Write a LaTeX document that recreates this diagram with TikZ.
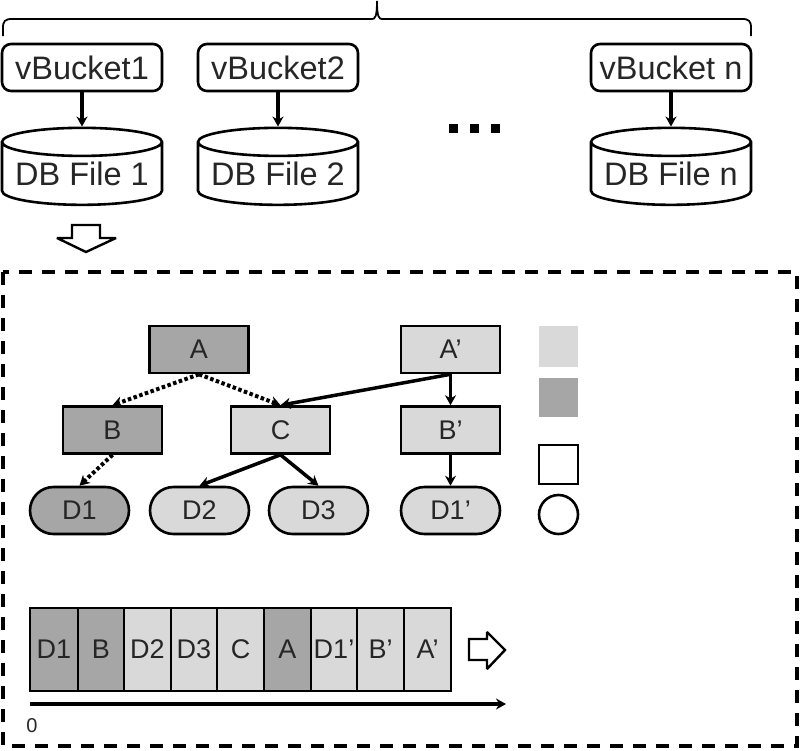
\documentclass[tikz,border=0pt]{standalone}
\usepackage{fontspec}
\setmainfont{Liberation Sans}
\usetikzlibrary{arrows.meta,shapes.geometric,shapes.misc}
\definecolor{lightfill}{HTML}{D9D9D9}
\definecolor{darkfill}{HTML}{A6A6A6}
\definecolor{inkgray}{HTML}{262626}
\tikzset{
  >={Stealth[length=10pt,width=11pt]},
  base/.style={draw=black,line width=2.6pt,inner sep=0pt,text=inkgray,font=\fontsize{27}{30}\selectfont},
  bucket/.style={base,rounded corners=9pt,minimum width=160pt,minimum height=47pt,font=\fontsize{32.5}{36}\selectfont},
  dbfile/.style={base,cylinder,shape border rotate=90,aspect=0.21,minimum width=160pt,minimum height=77pt,font=\fontsize{32.5}{36}\selectfont},
  treebox/.style={base,minimum width=99pt,minimum height=47pt},
  leaf/.style={base,rounded rectangle,minimum width=99pt,minimum height=47pt},
  cell/.style={base,minimum height=83pt},
  link/.style={->,line width=3.5pt},
  weak/.style={->,line width=4pt,dash pattern=on 3.5pt off 2.5pt},
  hollow/.style={draw=black,line width=2.4pt,fill=white,miter limit=2}
}
\begin{document}
\begin{tikzpicture}[x=1pt,y=-1pt]
  \useasboundingbox (0,0) rectangle (800,750);
  % top brace
  \draw[line width=1.8pt] (3,36) -- (3,28) .. controls (3,21) and (5,19) .. (12,19)
    -- (372,19) .. controls (375,19) and (377,17) .. (377,1)
    .. controls (377,17) and (379,19) .. (382,19) -- (742,19)
    .. controls (749,19) and (751,21) .. (751,28) -- (751,36);
  % buckets and files
  \foreach \x/\v/\f/\c in {1/vBucket1/DB File 1/82, 2/vBucket2/DB File 2/278, 3/vBucket n/DB File n/671}{
    \node[bucket](V\x) at (\c, 67.5){\v};
    \node[dbfile](F\x) at (\c, 174){\raisebox{-7pt}{\f}};
    \draw[link](V\x.south)--(F\x.north);
  }
  \foreach \x in {449, 470, 491}{
    \fill (\x, 124) rectangle ++(9, 9);
  }
  \draw[hollow] (72,225) -- (100,225) -- (100,238) -- (116,238) -- (86,252) -- (57,238) -- (72,238) -- cycle;
  % frame
  \draw[line width=3.6pt,dash pattern=on 13pt off 10pt] (3,272) rectangle (797,746);
  % tree
  \node[treebox,fill=darkfill](A) at (199, 349.5){A};
  \node[treebox,fill=lightfill](Ap) at (450.5, 349.5){A’};
  \node[treebox,fill=darkfill](B) at (112.5, 430){B};
  \node[treebox,fill=lightfill](C) at (280.5, 430){C};
  \node[treebox,fill=lightfill](Bp) at (450.5, 430){B’};
  \node[leaf,fill=darkfill](D1) at (79.5, 510.5){D1};
  \node[leaf,fill=lightfill](D2) at (199.5, 510.5){D2};
  \node[leaf,fill=lightfill](D3) at (318.5, 510.5){D3};
  \node[leaf,fill=lightfill](Dp) at (450.5, 510.5){D1’};
  \draw[weak](A.south)--(B.north);
  \draw[weak](A.south)--(C.north);
  \draw[weak](B.south)--(D1.north);
  \draw[link](Ap.south)--(C.north);
  \draw[link](Ap.south)--(Bp.north);
  \draw[link](C.south)--(D2.north);
  \draw[link](C.south)--(D3.north);
  \draw[link](Bp.south)--(Dp.north);
  % legend
  \node[fill=lightfill,minimum width=39pt,minimum height=41pt,inner sep=0pt](L1) at (558.5, 346.5){};
  \node[fill=darkfill,minimum width=39pt,minimum height=39pt,inner sep=0pt](L2) at (558.5, 397.5){};
  \node[draw,line width=2.6pt,minimum width=39pt,minimum height=39pt,inner sep=0pt](L3) at (558.5, 464.5){};
  \node[draw,ellipse,line width=2.6pt,minimum width=39pt,minimum height=39pt,inner sep=0pt](L4) at (558.5, 514.5){};
  % strip
  \foreach \x/\t/\a/\b/\k in {1/D1/30/78/darkfill, 2/B/78/124/darkfill, 3/D2/124/171/lightfill, 4/D3/171/217/lightfill,
      5/C/217/264/lightfill, 6/A/264/311/darkfill, 7/D1’/311/357/lightfill, 8/B’/357/404/lightfill, 9/A’/404/451/lightfill}{
    \pgfmathsetmacro\w{\b-\a}
    \pgfmathsetmacro\m{(\a+\b)/2}
    \node[cell,fill=\k,minimum width=\w pt](S\x) at (\m, 649.5){\t};
  }
  \draw[hollow] (469,639) -- (487,639) -- (487,632) -- (505,650) -- (487,669) -- (487,660) -- (469,660) -- cycle;
  \coordinate (T0) at (30,704);
  \coordinate (T1) at (506,704);
  \draw[link](T0)--(T1);
  \node[text=inkgray,font=\fontsize{20}{22}\selectfont,inner sep=0pt](Z) at (32,726){0};
\end{tikzpicture}
\end{document}
